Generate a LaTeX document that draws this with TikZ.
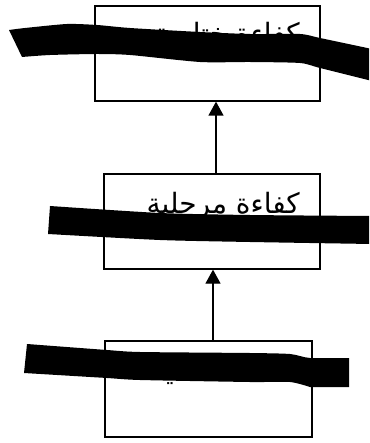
\documentclass[tikz,border=0pt]{standalone}
\usepackage{fontspec}
\usetikzlibrary{arrows.meta}
\TeXXeTstate=1
\newfontfamily\arabicfont[Script=Arabic]{DejaVu Sans}

\tikzset{
  stagebox/.style={draw=black, line width=1.3pt, fill=white, rectangle, inner sep=0pt},
  stagetext/.style={font=\arabicfont\fontsize{28}{32}\selectfont, inner sep=0pt, anchor=base east},
  uparrow/.style={line width=1.3pt, -{Triangle[length=14pt,width=15pt]}},
  inkbar/.style={fill=black},
}

\begin{document}
\begin{tikzpicture}[x=1pt, y=-1pt]
  \useasboundingbox (0,0) rectangle (369,443);
  \fill[white] (0,0) rectangle (369,443);
  \clip (0,0) rectangle (369,443);

  % the three stages, bottom to top
  \node[stagebox, minimum width=225pt, minimum height=95pt] (b1) at (207.5,53.5) {};
  \node[stagebox, minimum width=216pt, minimum height=95pt] (b2) at (212,221.5) {};
  \node[stagebox, minimum width=207pt, minimum height=96pt] (b3) at (208.5,389) {};

  \node[stagetext] (t1) at (300,44) {\beginR كفاءة ختامية\endR};
  \node[stagetext] (t2) at (300,213) {\beginR كفاءة مرحلية\endR};
  \node[stagetext] (t3) at (300,380) {\beginR كفاءة قاعدية\endR};

  % arrows between stages
  \coordinate (a1) at (216,0);
  \coordinate (a2) at (213,0);
  \draw[uparrow] (b2.north -| a1) -- (b1.south -| a1);
  \draw[uparrow] (b3.north -| a2) -- (b2.south -| a2);

  % thick marker strokes across the labels
  \fill[inkbar] plot[smooth, tension=0.4] coordinates {(9,30) (25,28) (67,24) (97,25) (130,28) (200,32) (250,34) (300,34) (320,38) (372,49)}
    -- plot[smooth, tension=0.4] coordinates {(372,81) (320,68) (300,63) (250,62) (200,62) (130,55) (97,54) (50,55) (22,57)} -- cycle;
  \fill[inkbar] plot[smooth, tension=0.4] coordinates {(50,206) (160,213) (250,215) (372,216)}
    -- plot[smooth, tension=0.4] coordinates {(372,244) (250,242) (160,240) (48,234)} -- cycle;
  \fill[inkbar] plot[smooth, tension=0.4] coordinates {(27,344) (107,350) (140,352) (250,353) (290,354) (310,358) (349,358)}
    -- (349,387) -- plot[smooth, tension=0.4] coordinates {(310,387) (290,382) (250,382) (140,380) (107,378) (24,373)} -- cycle;
\end{tikzpicture}
\end{document}
